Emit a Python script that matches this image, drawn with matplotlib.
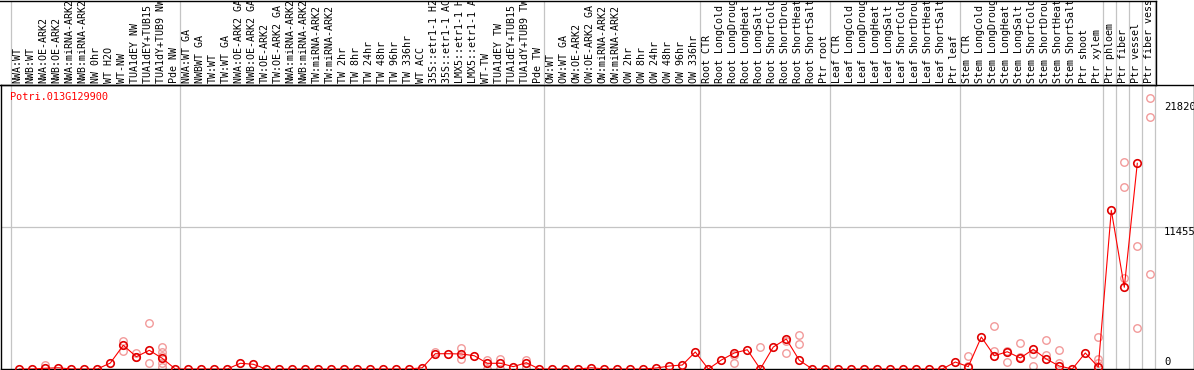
import matplotlib
matplotlib.use("Agg")
import matplotlib.pyplot as plt

gene = "Potri.013G129900"

labels = [
    "NWA:WT", "NWB:WT", "NWA:OE-ARK2", "NWB:OE-ARK2", "NWA:miRNA-ARK2", "NWB:miRNA-ARK2",
    "NW 0hr", "WT H2O", "WT-NW", "TUA1dEY NW", "TUA1dEY+TUB15 NW", "TUA1dY+TUB9 NW", "Pde NW",
    "NWA:WT GA", "NWBWT GA", "TW:WT", "TW:WT GA", "NWA:OE-ARK2 GA", "NWB:OE-ARK2 GA",
    "TW:OE-ARK2", "TW:OE-ARK2 GA", "NWA:miRNA-ARK2", "NWB:miRNA-ARK2", "TW:miRNA-ARK2",
    "TW:miRNA-ARK2", "TW 2hr", "TW 8hr", "TW 24hr", "TW 48hr", "TW 96hr", "TW 336hr",
    "WT ACC", "35S::etr1-1 H2O", "35S::etr1-1 ACC", "LMX5::etr1-1 H2O", "LMX5::etr1-1 ACC",
    "WT-TW", "TUA1dEY TW", "TUA1dEY+TUB15 TW", "TUA1dY+TUB9 TW", "Pde TW",
    "OW:WT", "OW:WT GA", "OW:OE-ARK2", "OW:OE-ARK2 GA", "OW:miRNA-ARK2", "OW:miRNA-ARK2",
    "OW 2hr", "OW 8hr", "OW 24hr", "OW 48hr", "OW 96hr", "OW 336hr",
    "Root CTR", "Root LongCold", "Root LongDrought", "Root LongHeat", "Root LongSalt",
    "Root ShortCold", "Root ShortDrought", "Root ShortHeat", "Root ShortSalt", "Ptr root",
    "Leaf CTR", "Leaf LongCold", "Leaf LongDrought", "Leaf LongHeat", "Leaf LongSalt",
    "Leaf ShortCold", "Leaf ShortDrought", "Leaf ShortHeat", "Leaf ShortSalt", "Ptr leaf",
    "Stem CTR", "Stem LongCold", "Stem LongDrought", "Stem LongHeat", "Stem LongSalt",
    "Stem ShortCold", "Stem ShortDrought", "Stem ShortHeat", "Stem ShortSalt", "Ptr shoot",
    "Ptr xylem", "Ptr phloem", "Ptr fiber", "Ptr vessel", "Ptr fiber vessel",
]

means = [
    0, 0, 60, 100, 0, 0, 0, 480, 1910, 990, 1505, 860, 0,
    0, 0, 0, 0, 460, 380, 0, 0, 0, 0, 0, 0, 0, 0, 0, 0, 0, 0,
    100, 1230, 1230, 1210, 1070, 460, 460, 190, 510, 0,
    0, 0, 0, 100, 0, 0, 0, 0, 80, 240, 320, 1370,
    0, 720, 1290, 1550, 0, 1770, 2415, 700, 0,
    0, 0, 0, 0, 0, 0, 0, 0, 0, 0,
    560, 190, 2575, 1070, 1390, 885, 1585, 805, 240, 0,
    1290, 160, 12775, 6580, 16560,
]

replicates = {
    2: [300], 8: [2280, 1450], 9: [1310, 940], 10: [3680, 460],
    11: [1770, 1350, 1050, 460, 190], 32: [1350], 34: [1720, 780],
    36: [720, 40], 37: [780, 40], 39: [720, 190],
    55: [1100, 460], 57: [1770], 59: [2230, 1310], 60: [2710, 1980],
    73: [1050, 250], 75: [3460, 1470], 76: [1470, 560], 77: [2070, 940],
    78: [1210, 270], 79: [2310, 1100], 80: [1500, 460],
    83: [2590, 780, 480], 85: [16690, 14680, 7300], 86: [9900, 3300],
    87: [21820, 20250, 7620],
}

group_ends = [-1, 12, 40, 52, 62, 72, 83, 84, 85, 86, 87]
ytick_vals = [21820, 11455, 0]

W, H = 1194, 370
fig = plt.figure(figsize=(W / 100, H / 100), dpi=100)


def rect(l, t, r, b):
    return [l / W, 1 - b / H, (r - l) / W, (b - t) / H]


def xl(p0, p1):
    return ((p0 - 19.3) / 13.0, (p1 - 19.3) / 13.0)


px = 80.5  # data units per pixel
ax = fig.add_axes(rect(0.5, 85, 1193.5, 369))
ax.set_xlim(*xl(0.5, 1193.5))
ax.set_ylim(0, (369 - 85) * px)
ax.set_xticks([])
ax.set_yticks([])
for s in ax.spines.values():
    s.set_color("black")
    s.set_linewidth(1.0)

lab = fig.add_axes(rect(0, 0.5, 1156, 85))
lab.set_xlim(*xl(0, 1156))
lab.set_ylim(0, 85)
lab.set_xticks([])
lab.set_yticks([])
lab.patch.set_alpha(0)
lab.spines["left"].set_visible(False)
for s in ("top", "right", "bottom"):
    lab.spines[s].set_color("black")
    lab.spines[s].set_linewidth(1.0)

gray = "#c4c4c4"
for g in group_ends:
    xv = g + 0.36
    ax.axvline(xv, color=gray, lw=0.9, zorder=1)
    lab.axvline(xv, color=gray, lw=0.9, zorder=1)
ax.axhline(11455, color=gray, lw=0.9, zorder=1)

mono = "DejaVu Sans Mono"
for i, t in enumerate(labels):
    lab.text(i - 0.11, 2.0, t, rotation=90, ha="center", va="bottom",
             fontsize=7.2, family=mono, color="black", clip_on=True)

xs = list(range(len(means)))
rx, ry = [], []
for k, vals in replicates.items():
    for v in vals:
        rx.append(k)
        ry.append(v)
ax.plot(rx, ry, linestyle="none", marker="o", markersize=5.4, markerfacecolor="none",
        markeredgecolor="#f29a9a", markeredgewidth=1.0, zorder=2)
ax.plot(xs, means, color="#ff0000", lw=0.8, zorder=3)
ax.plot(xs, means, linestyle="none", marker="o", markersize=5.4, markerfacecolor="none",
        markeredgecolor="#e00000", markeredgewidth=1.2, zorder=4)

ax.text(10 / W, 1 - 97 / H, gene, transform=fig.transFigure, ha="left", va="center",
        fontsize=7.4, family=mono, color="#ff0000")

ypos = {21820: 106.7, 11455: 231.7, 0: 362}
for v in ytick_vals:
    ax.text(1164 / W, 1 - ypos[v] / H, str(v), transform=fig.transFigure,
            ha="left", va="center", fontsize=7.6, family=mono, color="black")

fig.savefig("out.png", dpi=100)
